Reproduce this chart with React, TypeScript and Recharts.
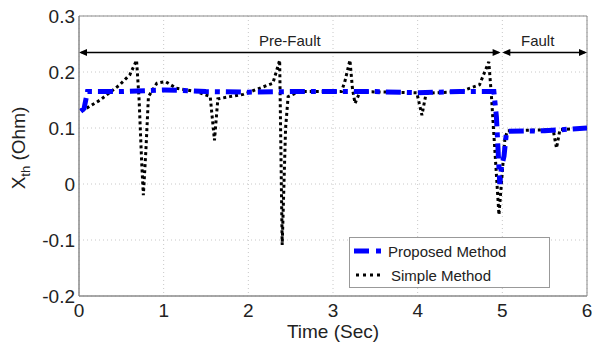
import React from 'react';
import { LineChart, Line, XAxis, YAxis, CartesianGrid, Legend, ReferenceLine, ReferenceArea, Label } from 'recharts';

// values
const timeTicks = [0, 1, 2, 3, 4, 5, 6];
const xthTicks = [-0.2, -0.1, 0, 0.1, 0.2, 0.3];

const proposedTime = [0.02, 0.06, 0.1, 0.5, 1.0, 1.2, 1.5, 2.0, 2.5, 3.0, 3.5, 4.0, 4.5, 4.9, 4.93, 4.95, 4.97, 4.99, 5.02, 5.05, 5.5, 5.8, 6.0];
const proposedXth = [0.13, 0.135, 0.165, 0.165, 0.168, 0.167, 0.165, 0.164, 0.165, 0.165, 0.165, 0.163, 0.165, 0.165, 0.12, 0.06, 0.0, 0.03, 0.05, 0.094, 0.095, 0.098, 0.1];

const simpleTime = [0.03, 0.25, 0.48, 0.6, 0.68, 0.71, 0.74, 0.76, 0.79, 0.82, 0.92, 1.02, 1.15, 1.39, 1.55, 1.6, 1.64, 1.78, 1.94, 2.29, 2.37, 2.4, 2.44, 2.47, 2.6, 3.1, 3.14, 3.2, 3.23, 3.26, 3.32, 3.99, 4.05, 4.1, 4.5, 4.73, 4.84, 4.87, 4.96, 5.03, 5.06, 5.6, 5.64, 5.68, 6.0];
const simpleXth = [0.13, 0.15, 0.177, 0.195, 0.221, 0.15, 0.04, -0.02, 0.06, 0.156, 0.18, 0.183, 0.171, 0.165, 0.156, 0.078, 0.152, 0.156, 0.16, 0.18, 0.221, -0.109, 0.1, 0.156, 0.165, 0.165, 0.183, 0.221, 0.17, 0.144, 0.165, 0.163, 0.123, 0.162, 0.165, 0.177, 0.218, 0.16, -0.055, 0.08, 0.095, 0.097, 0.064, 0.097, 0.1];

const preFaultSpan = [0, 4.98];
const faultSpan = [5.0, 6.0];
const arrowLevel = 0.235;

const proposedData = proposedTime.map((t, i) => ({ t, v: proposedXth[i] }));
const simpleData = simpleTime.map((t, i) => ({ t, v: simpleXth[i] }));

const FONT = '"Liberation Sans", Arial, sans-serif';

const DoubleArrow = (props: any) => {
  const { x1, y1, x2, y2 } = props;
  const h = 8;
  const w = 3.5;
  return (
    <g>
      <line x1={x1 + 2} y1={y1} x2={x2 - 2} y2={y2} stroke="#000" strokeWidth={1.5} />
      <polygon points={`${x1},${y1} ${x1 + h},${y1 - w} ${x1 + h},${y1 + w}`} fill="#000" />
      <polygon points={`${x2},${y2} ${x2 - h},${y2 - w} ${x2 - h},${y2 + w}`} fill="#000" />
    </g>
  );
};

// text label drawn a few px left of the fault span's centre, as in the figure
const FaultLabel = (props: any) => {
  const { viewBox } = props;
  const cx = viewBox.x + viewBox.width / 2 - 7;
  return (
    <text x={cx} y={viewBox.y - 6} textAnchor="middle" fontSize={15} fill="#222" fontFamily={FONT}>
      Fault
    </text>
  );
};

const YLabel = () => (
  <text transform="translate(25,148) rotate(-90)" textAnchor="middle" fontSize={19} fill="#222" fontFamily={FONT}>
    X<tspan fontSize={13} dy={5}>th</tspan>
    <tspan dy={-5}> (Ohm)</tspan>
  </text>
);

const LegendBox = () => (
  <div
    style={{
      border: '1px solid #999',
      background: '#fff',
      width: 199,
      height: 49,
      fontFamily: FONT,
      fontSize: 15,
      color: '#222',
      boxSizing: 'content-box',
    }}
  >
    <div style={{ display: 'flex', alignItems: 'center', height: 24, marginTop: 1 }}>
      <svg width={34} height={12} style={{ marginLeft: 3 }}>
        <line x1={1} y1={6} x2={33} y2={6} stroke="#0000ff" strokeWidth={5} strokeDasharray="15 7 5 7" />
      </svg>
      <span style={{ marginLeft: 1 }}>Proposed Method</span>
    </div>
    <div style={{ display: 'flex', alignItems: 'center', height: 24 }}>
      <svg width={34} height={12} style={{ marginLeft: 5 }}>
        <line x1={1} y1={6} x2={28} y2={6} stroke="#000" strokeWidth={3} strokeDasharray="3 4" />
      </svg>
      <span style={{ marginLeft: 2 }}>Simple Method</span>
    </div>
  </div>
);

export default function App() {
  const tickStyle = { fontSize: 19, fill: '#222', fontFamily: FONT };
  return (
    <div style={{ position: 'absolute', left: 0, top: 0, width: 592, height: 345, background: '#fff' }}>
      <LineChart width={592} height={345} margin={{ top: 16, right: 5, bottom: 4, left: 0 }}>
        <CartesianGrid stroke="#c8c8c8" strokeDasharray="1 3" />
        <XAxis
          dataKey="t"
          type="number"
          domain={[0, 6]}
          ticks={timeTicks}
          allowDataOverflow
          height={45}
          tickLine={false}
          tickSize={6}
          tickMargin={2}
          stroke="#8a8a8a"
          tick={tickStyle}
        >
          <Label value="Time (Sec)" position="insideBottom" offset={3} style={{ fontSize: 19, fill: '#222', fontFamily: FONT }} />
        </XAxis>
        <YAxis
          type="number"
          domain={[-0.2, 0.3]}
          ticks={xthTicks}
          allowDataOverflow
          width={79}
          tickLine={false}
          tickSize={4}
          tickMargin={0}
          stroke="#8a8a8a"
          tick={tickStyle}
          tickFormatter={(v) => String(Math.round(v * 10) / 10)}
        >
          <Label content={<YLabel />} />
        </YAxis>
        <ReferenceArea x1={0} x2={6} y1={-0.2} y2={0.3} fill="none" stroke="#8a8a8a" strokeWidth={1} />
        <ReferenceLine
          segment={[{ x: preFaultSpan[0], y: arrowLevel }, { x: preFaultSpan[1], y: arrowLevel }]}
          shape={DoubleArrow}
          label={{ value: 'Pre-Fault', position: 'top', offset: 6, style: { fontSize: 15, fill: '#222', fontFamily: FONT } }}
        />
        <ReferenceLine
          segment={[{ x: faultSpan[0], y: arrowLevel }, { x: faultSpan[1], y: arrowLevel }]}
          shape={DoubleArrow}
          label={<FaultLabel />}
        />
        <Line
          data={simpleData}
          dataKey="v"
          name="Simple Method"
          type="linear"
          stroke="#000"
          strokeWidth={3}
          strokeDasharray="3 3"
          dot={false}
          activeDot={false}
          isAnimationActive={false}
        />
        <Line
          data={proposedData}
          dataKey="v"
          name="Proposed Method"
          type="linear"
          stroke="#0000ff"
          strokeWidth={5}
          strokeDasharray="15 6 5 6"
          dot={false}
          activeDot={false}
          isAnimationActive={false}
        />
        <Legend
          layout="vertical"
          align="center"
          verticalAlign="middle"
          content={<LegendBox />}
          wrapperStyle={{ left: 349, top: 237, width: 201, height: 51 }}
        />
      </LineChart>
    </div>
  );
}
